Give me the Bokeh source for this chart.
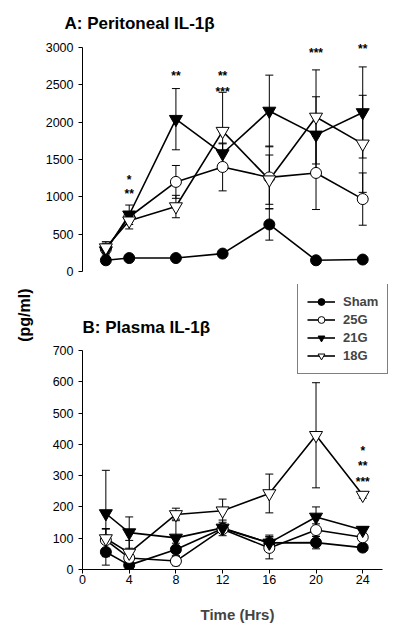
import numpy as np
from bokeh.plotting import figure
from bokeh.models import (ColumnDataSource, Whisker, TeeHead, Label, Legend, LegendItem,
                          FixedTicker, Range1d, Title)
from bokeh.layouts import column
from bokeh.embed import file_html
from bokeh.resources import INLINE
from bokeh.core.properties import value

# ---------------- data ----------------
hours = [2, 4, 8, 12, 16, 20, 24]
x_ticks = [0, 4, 8, 12, 16, 20, 24]
groups = ["Sham", "25G", "21G", "18G"]

# Panel A: Peritoneal IL-1beta (pg/ml)
a_sham = [150, 180, 180, 240, 630, 150, 160]
a_sham_err = [50, 20, 20, 30, 210, 20, 20]
a_25g = [300, 730, 1200, 1400, 1260, 1320, 970]
a_25g_err = [80, 60, 220, 320, 420, 490, 350]
a_21g = [280, 760, 2040, 1580, 2150, 1830, 2130]
a_21g_err = [90, 130, 410, 130, 480, 510, 610]
a_18g = [320, 680, 870, 1880, 1230, 2070, 1710]
a_18g_err = [80, 110, 150, 520, 330, 630, 650]
a_yticks = [0, 500, 1000, 1500, 2000, 2500, 3000]
a_star_x = [4, 4, 8, 12, 12, 20, 24]
a_star_y = [1263, 1076, 2656, 2656, 2446, 2960, 3018]
a_star_t = ["*", "**", "**", "**", "***", "***", "**"]

# Panel B: Plasma IL-1beta (pg/ml)
b_sham = [56, 14, 64, 131, 85, 86, 70]
b_sham_err = [42, 10, 20, 10, 25, 20, 10]
b_25g = [94, 37, 27, 129, 69, 126, 103]
b_25g_err = [35, 20, 15, 10, 35, 20, 10]
b_21g = [179, 118, 101, 133, 85, 168, 126]
b_21g_err = [138, 50, 60, 25, 20, 32, 10]
b_18g = [99, 53, 176, 188, 243, 429, 238]
b_18g_err = [32, 40, 20, 37, 62, 168, 10]
b_yticks = [0, 100, 200, 300, 400, 500, 600, 700]
b_star_x = [24, 24, 24]
b_star_y = [387, 341, 289]
b_star_t = ["*", "**", "***"]

FONT = "Liberation Sans"
styles = {
    "Sham": dict(marker="circle", fill_color="black", size=11),
    "25G": dict(marker="circle", fill_color="white", size=11),
    "21G": dict(marker="inverted_triangle", fill_color="black", size=13),
    "18G": dict(marker="inverted_triangle", fill_color="white", size=13),
}


def build(p, series, stars):
    line_r, mark_r = {}, {}
    for g, (vals, errs) in series.items():
        v = np.array(vals, float)
        e = np.array(errs, float)
        src = ColumnDataSource(dict(x=hours, y=v, upper=v + e, lower=v - e))
        w = Whisker(source=src, base="x", upper="upper", lower="lower",
                    line_color="black", line_width=1,
                    upper_head=TeeHead(size=8, line_color="black", line_width=1),
                    lower_head=TeeHead(size=8, line_color="black", line_width=1))
        p.add_layout(w)
        series[g] = src
    for g, src in series.items():
        line_r[g] = p.line("x", "y", source=src, line_color="black", line_width=1.6)
    for g, src in series.items():
        st = styles[g]
        mark_r[g] = p.scatter("x", "y", source=src, marker=st["marker"], size=st["size"],
                              fill_color=st["fill_color"], line_color="black", line_width=1)
    sx, sy, stt = stars
    p.text(x=sx, y=sy, text=stt, text_font=value(FONT), text_font_style="bold",
           text_font_size="12px", text_align="center", text_baseline="alphabetic",
           y_offset=3, text_color="black")
    return line_r, mark_r


def style_axis(ax):
    ax.axis_line_color = "black"
    ax.major_tick_line_color = "black"
    ax.minor_tick_line_color = None
    ax.major_tick_in = 0
    ax.major_tick_out = 4
    ax.major_label_text_font = FONT
    ax.major_label_text_font_size = "12.5px"
    ax.major_label_text_color = "black"


XMAX = 26.55
# ---------------- panel A ----------------
pA = figure(width=392, height=284, output_backend="svg", toolbar_location=None,
            x_range=Range1d(0, XMAX), y_range=Range1d(-174.1, 3147.3),
            x_axis_location=None, min_border_left=80, min_border_right=0,
            min_border_top=36, min_border_bottom=0)
pA.grid.visible = False
pA.outline_line_color = None
style_axis(pA.yaxis[0])
pA.yaxis.ticker = FixedTicker(ticks=a_yticks)
pA.yaxis.bounds = (0, 3000)
pA.yaxis.major_label_standoff = 5
pA.add_layout(Title(text="A: Peritoneal IL-1β", align="left", offset=-18, standoff=8,
                    text_font=FONT, text_font_style="bold", text_font_size="17px",
                    text_color="black"), "above")

build(pA, {"Sham": (a_sham, a_sham_err), "25G": (a_25g, a_25g_err),
           "21G": (a_21g, a_21g_err), "18G": (a_18g, a_18g_err)},
      (a_star_x, a_star_y, a_star_t))

# ---------------- panel B ----------------
pB = figure(width=392, height=343, output_backend="svg", toolbar_location=None,
            x_range=Range1d(0, XMAX), y_range=Range1d(0, 910.9),
            min_border_left=80, min_border_right=0, min_border_top=0, min_border_bottom=58)
pB.grid.visible = False
pB.outline_line_color = None
style_axis(pB.yaxis[0])
style_axis(pB.xaxis[0])
pB.yaxis.ticker = FixedTicker(ticks=b_yticks)
pB.yaxis.bounds = (0, 700)
pB.yaxis.major_label_standoff = 5
pB.xaxis.ticker = FixedTicker(ticks=x_ticks)
pB.xaxis.bounds = (0, 25.7)
pB.xaxis.major_label_standoff = 1
pB.xaxis.axis_label = "Time (Hrs)"
pB.xaxis.axis_label_text_font = FONT
pB.xaxis.axis_label_text_font_style = "bold"
pB.xaxis.axis_label_text_font_size = "15px"
pB.xaxis.axis_label_standoff = 19

# shared y-axis caption "(pg/ml)", a side title near the top of panel B
pB.add_layout(Title(text="(pg/ml)", align="right", offset=4, standoff=30,
                    vertical_align="top",
                    text_font=FONT, text_font_style="bold", text_font_size="16px",
                    text_color="black"), "left")

lr, mr = build(pB, {"Sham": (b_sham, b_sham_err), "25G": (b_25g, b_25g_err),
                    "21G": (b_21g, b_21g_err), "18G": (b_18g, b_18g_err)},
               (b_star_x, b_star_y, b_star_t))
pB.add_layout(Label(x=0, y=242, x_units="screen", y_units="screen", text="B: Plasma IL-1β",
                    text_font=FONT, text_font_style="bold", text_font_size="17px",
                    text_baseline="middle", text_align="left", text_color="black"))

legend = Legend(items=[LegendItem(label=g, renderers=[lr[g], mr[g]]) for g in groups],
                location=(215, 195), margin=0, padding=9, spacing=1,
                glyph_width=28, glyph_height=17, label_height=17, label_standoff=8,
                label_text_font=FONT, label_text_font_style="bold", label_text_font_size="13px",
                border_line_color="black", border_line_width=1, background_fill_color="white",
                background_fill_alpha=1)
pB.add_layout(legend)

layout = column(pA, pB, spacing=0)
open("out.html", "w").write(file_html(layout, INLINE))
